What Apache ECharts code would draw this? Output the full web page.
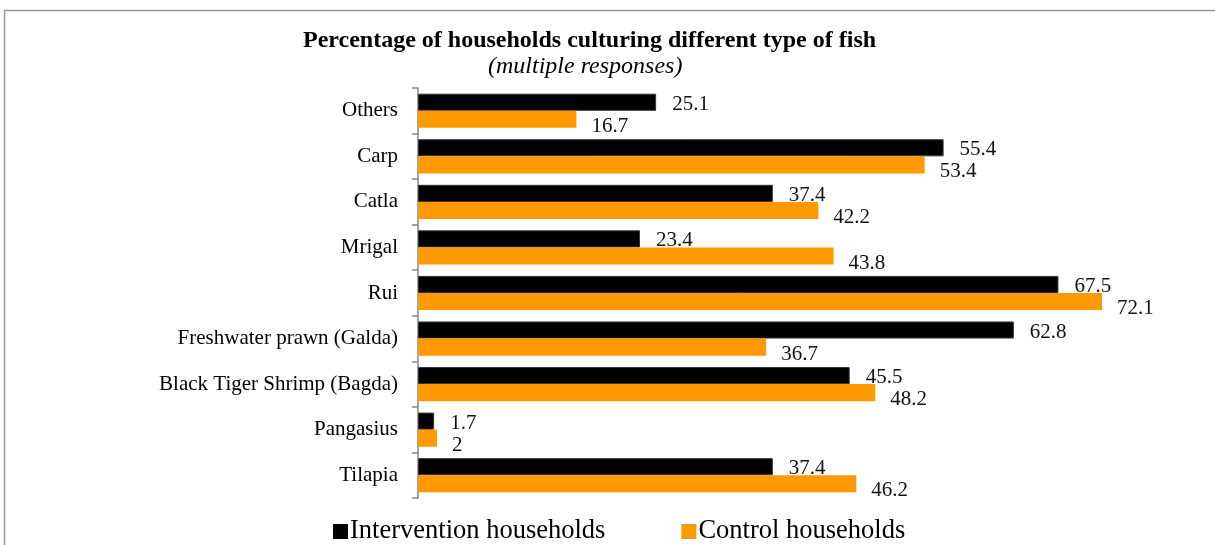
<!DOCTYPE html>
<html>
<head>
    <meta charset="UTF-8">
    <title>Households culturing fish</title>
    <script src="https://cdn.jsdelivr.net/npm/echarts@6/dist/echarts.min.js"></script>
</head>
<body style="margin:0;background:#fff;">
<div id="chart" style="width:1215px;height:545px;"></div>
<script type="text/javascript">
    var fishTypes = ["Others", "Carp", "Catla", "Mrigal", "Rui", "Freshwater prawn (Galda)",
        "Black Tiger Shrimp (Bagda)", "Pangasius", "Tilapia"];
    var intervention = [25.1, 55.4, 37.4, 23.4, 67.5, 62.8, 45.5, 1.7, 37.4];
    var control = [16.7, 53.4, 42.2, 43.8, 72.1, 36.7, 48.2, 2, 46.2];
    var seriesNames = ["Intervention households", "Control households"];

    var serif = "'Liberation Serif', 'DejaVu Serif', serif";
    var chart = echarts.init(document.getElementById('chart'));
    var option = {
        backgroundColor: '#fff',
        animation: false,
        textStyle: {fontFamily: serif},
        graphic: [{
            type: 'rect',
            shape: {x: 4.5, y: 10.5, width: 1300, height: 600},
            style: {fill: 'none', stroke: '#999', lineWidth: 1.5},
            silent: true
        }],
        title: [{
            text: 'Percentage of households culturing different type of fish',
            left: 303,
            top: 29,
            padding: 0,
            textStyle: {fontFamily: serif, fontSize: 24, fontWeight: 'bold', color: '#000'}
        }, {
            text: '(multiple responses)',
            left: 488,
            top: 55,
            padding: 0,
            textStyle: {fontFamily: serif, fontSize: 24, fontStyle: 'italic', fontWeight: 'normal', color: '#000'}
        }],
        legend: {
            data: seriesNames,
            left: 333,
            top: 518,
            icon: 'rect',
            itemWidth: 15,
            itemHeight: 15,
            itemGap: 76,
            padding: 0,
            itemStyle: {borderWidth: 0},
            textStyle: {fontFamily: serif, fontSize: 26.5, color: '#000', padding: [0, 0, 0, -3]}
        },
        grid: {left: 418, right: 38, top: 88, bottom: 47, containLabel: false},
        xAxis: {
            type: 'value',
            min: 0,
            max: 80,
            show: false
        },
        yAxis: {
            type: 'category',
            data: fishTypes,
            inverse: true,
            axisLine: {lineStyle: {color: '#888', width: 1.5}},
            axisTick: {show: true, length: 6, lineStyle: {color: '#888', width: 1.5}},
            axisLabel: {fontFamily: serif, fontSize: 21, color: '#000', margin: 20}
        },
        series: [{
            name: seriesNames[0],
            type: 'bar',
            data: intervention,
            barGap: '0%',
            barCategoryGap: '25%',
            itemStyle: {color: '#000', borderColor: '#333', borderWidth: 1},
            label: {
                show: true, position: 'right', distance: 16, offset: [0, 2],
                fontFamily: serif, fontSize: 21, color: '#111'
            }
        }, {
            name: seriesNames[1],
            type: 'bar',
            data: control,
            barGap: '0%',
            barCategoryGap: '25%',
            itemStyle: {color: '#FF9900'},
            label: {
                show: true, position: 'right', distance: 15, offset: [0, 7],
                fontFamily: serif, fontSize: 21, color: '#111'
            }
        }]
    };
    chart.setOption(option);
</script>
</body>
</html>
